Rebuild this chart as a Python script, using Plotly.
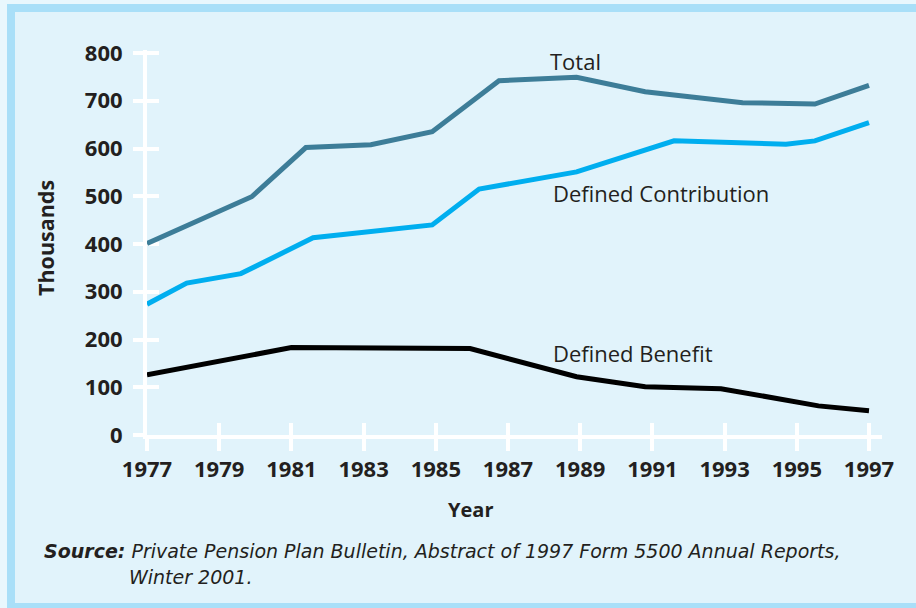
import plotly.graph_objects as go

# ---- data (thousands of plans) ----
total_years = [1977, 1979.9, 1981.4, 1983.2, 1984.9, 1986.75, 1988.9, 1990.8, 1993.5, 1995.5, 1997]
total_vals = [401, 499, 602, 608, 635, 742, 749, 719, 696, 693, 732]

dc_years = [1977, 1978.1, 1979.6, 1981.6, 1984.9, 1986.2, 1988.9, 1991.6, 1994.7, 1995.5, 1997]
dc_vals = [274, 318, 338, 413, 440, 515, 551, 616, 609, 616, 654]

db_years = [1977, 1981, 1985.95, 1988.9, 1990.8, 1992.9, 1995.6, 1997]
db_vals = [126, 183, 181, 122, 101, 97, 61, 51]

x_ticks = [1977, 1979, 1981, 1983, 1985, 1987, 1989, 1991, 1993, 1995, 1997]
y_ticks = [0, 100, 200, 300, 400, 500, 600, 700, 800]

series_names = ["Total", "Defined Contribution", "Defined Benefit"]
label_pos = [(1988.1, 783), (1988.2, 507), (1988.2, 172)]

W, H = 916, 608
L, R, T, B = 147, 882, 50, 435   # plot area in pixels

def px(x):
    return (x - L) / (R - L)

def py(y):
    return (B - y) / (B - T)

BG = "#e1f3fb"
BORDER = "#a9dff8"
TXT = "#231f20"

fig = go.Figure()
fig.add_trace(go.Scatter(x=total_years, y=total_vals, mode="lines", name=series_names[0],
                         line=dict(color="#3d7d98", width=5)))
fig.add_trace(go.Scatter(x=dc_years, y=dc_vals, mode="lines", name=series_names[1],
                         line=dict(color="#00aeef", width=5)))
fig.add_trace(go.Scatter(x=db_years, y=db_vals, mode="lines", name=series_names[2],
                         line=dict(color="#000000", width=5)))

x_end = 1977 + (R - L) / 36.1
y_end = (B - T) / 0.4775

tickfont = dict(family="Open Sans", size=22, color=TXT, weight="bold")

fig.update_layout(
    width=W, height=H,
    margin=dict(l=L, r=W - R, t=T, b=H - B),
    paper_bgcolor=BG, plot_bgcolor=BG,
    showlegend=False,
    xaxis=dict(range=[1977, x_end], tickvals=x_ticks, ticktext=[str(v) for v in x_ticks],
               showgrid=False, zeroline=False, showline=True, linecolor="white", linewidth=4,
               ticks="outside", ticklen=12, tickwidth=4, tickcolor="white",
               tickfont=tickfont, layer="below traces", ticklabelstandoff=0),
    yaxis=dict(range=[0, y_end], tickvals=y_ticks, ticktext=[str(v) for v in y_ticks],
               showgrid=False, zeroline=False, showline=True, linecolor="white", linewidth=4,
               ticks="outside", ticklen=10, tickwidth=4, tickcolor="white",
               tickfont=tickfont, layer="below traces", ticklabelstandoff=6),
    xaxis2=dict(range=[1977, x_end], tickvals=x_ticks, overlaying="x", anchor="y", side="bottom",
                showgrid=False, zeroline=False, showticklabels=False,
                ticks="inside", ticklen=12, tickwidth=4, tickcolor="white", layer="below traces"),
    yaxis2=dict(range=[0, y_end], tickvals=y_ticks, overlaying="y", anchor="x", side="left",
                showgrid=False, zeroline=False, showticklabels=False,
                ticks="inside", ticklen=12, tickwidth=4, tickcolor="white", layer="below traces"),
)

# invisible trace to activate overlay axes
fig.add_trace(go.Scatter(x=[None], y=[None], xaxis="x2", yaxis="y2", showlegend=False,
                         hoverinfo="skip"))

annotations = []
for name, (lx, ly) in zip(series_names, label_pos):
    annotations.append(dict(x=lx, y=ly, xref="x", yref="y", text=name, showarrow=False,
                            xanchor="left", yanchor="middle",
                            font=dict(family="Open Sans", size=22, color=TXT)))
annotations.append(dict(x=px(470), y=py(509), xref="paper", yref="paper", text="<b>Year</b>",
                        showarrow=False, xanchor="center", yanchor="middle",
                        font=dict(family="Open Sans", size=20, color=TXT)))
annotations.append(dict(x=px(45), y=py(238), xref="paper", yref="paper", text="<b>Thousands</b>",
                        showarrow=False, xanchor="center", yanchor="middle", textangle=-90,
                        font=dict(family="Open Sans", size=21.5, color=TXT)))
annotations.append(dict(x=px(42), y=py(551), xref="paper", yref="paper",
                        text="<b><i>Source:</i></b> <i>Private Pension Plan Bulletin, Abstract of 1997 Form 5500 Annual Reports,</i>",
                        showarrow=False, xanchor="left", yanchor="middle",
                        font=dict(family="DejaVu Sans", size=19, color=TXT)))
annotations.append(dict(x=px(127), y=py(577), xref="paper", yref="paper",
                        text="<i>Winter 2001.</i>",
                        showarrow=False, xanchor="left", yanchor="middle",
                        font=dict(family="DejaVu Sans", size=19, color=TXT)))
fig.update_layout(annotations=annotations)

def rect(x0, y0, x1, y1, color):
    return dict(type="rect", xref="paper", yref="paper", x0=px(x0), x1=px(x1), y0=py(y0), y1=py(y1),
                fillcolor=color, line=dict(width=0), layer="below")

fig.update_layout(shapes=[
    rect(0, 0, W, 4, "#e9f7fd"),
    rect(0, 0, 7, H, "#e9f7fd"),
    rect(7, 4, W, 12, BORDER),
    rect(7, 4, 15, H, BORDER),
    rect(7, 603, W, H, BORDER),
])

fig.write_html("out.html", config={"displayModeBar": False},
               post_script="document.body.style.margin='0';document.body.style.overflow='hidden';")
